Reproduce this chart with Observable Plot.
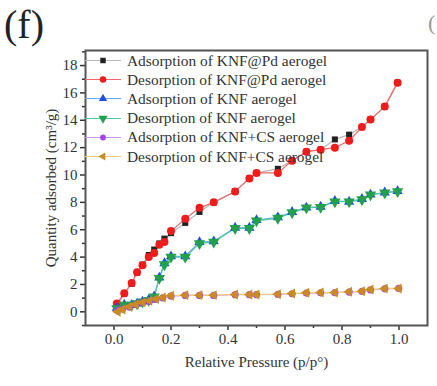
<!DOCTYPE html>
<html><head><meta charset="utf-8">
<script src="https://cdn.jsdelivr.net/npm/d3@7"></script>
<script src="https://cdn.jsdelivr.net/npm/@observablehq/plot@0.6"></script>
<style>
body{margin:0;background:#fff;}
#wrap{position:relative;width:437px;height:386px;font-family:"Liberation Serif","Times New Roman",serif;overflow:hidden;}
#tag{position:absolute;left:4px;top:3px;font-size:40px;color:#222;line-height:44px;}
#tag2{position:absolute;left:428px;top:10px;font-size:22px;color:#999;}
#legend{position:absolute;left:85px;top:51px;}
.row{display:flex;align-items:center;height:19.2px;}
.row span{font-size:15.4px;color:#333;margin-left:2px;white-space:nowrap;}
#chart{position:absolute;left:0;top:0;}
#chart svg, #chart svg text{font-family:"Liberation Serif","Times New Roman",serif !important;}
</style></head><body>
<div id="wrap"><div id="chart"></div><div id="tag">(f)</div><div id="tag2">(</div><div id="legend"></div></div>
<script>
// Data
const seriesNames = ["Adsorption of KNF@Pd aerogel","Desorption of KNF@Pd aerogel","Adsorption of KNF aerogel","Desorption of KNF aerogel","Adsorption of KNF+CS aerogel","Desorption of KNF+CS aerogel"];
const pressureA = [0.01,0.036,0.062,0.081,0.10,0.122,0.141,0.159,0.177,0.20,0.25,0.30,0.35,0.425,0.475,0.50,0.575,0.625,0.675,0.725,0.775,0.825,0.87,0.90,0.95,0.995];
const adsPd = [0.4,1.3,2.05,2.85,3.45,4.15,4.55,5.0,5.35,5.75,6.5,7.3,8.0,8.8,9.75,10.15,10.45,11.05,11.7,11.85,12.6,12.95,13.5,14.05,15.0,16.75];
const desPd = [0.6,1.35,2.1,2.9,3.4,4.0,4.3,4.9,5.1,5.9,6.8,7.6,8.0,8.8,9.75,10.15,10.15,11.05,11.7,11.85,12.0,12.5,13.5,14.05,15.0,16.75];
const adsKNF = [0.3,0.52,0.5,0.6,0.75,0.88,1.12,2.5,3.55,4.05,4.05,5.1,5.15,6.15,6.15,6.7,6.9,7.3,7.62,7.68,8.1,8.05,8.25,8.57,8.72,8.82];
const desKNF = [0.25,0.5,0.5,0.6,0.73,0.85,1.1,2.45,3.45,4.0,4.0,5.0,5.1,6.1,6.1,6.65,6.85,7.25,7.6,7.65,8.05,8.05,8.2,8.55,8.7,8.8];
const pressureC = [0.013,0.03,0.054,0.077,0.10,0.124,0.147,0.171,0.20,0.25,0.30,0.35,0.425,0.475,0.50,0.575,0.625,0.675,0.725,0.775,0.825,0.87,0.90,0.95,0.999];
const adsCS = [0.1,0.2,0.35,0.52,0.67,0.78,0.9,1.02,1.15,1.2,1.2,1.2,1.25,1.25,1.25,1.27,1.32,1.37,1.39,1.4,1.44,1.5,1.6,1.68,1.71];
const desCS = [0.0,0.17,0.37,0.54,0.69,0.8,0.93,1.05,1.17,1.22,1.22,1.22,1.27,1.27,1.27,1.29,1.34,1.39,1.41,1.41,1.46,1.51,1.63,1.71,1.71];
const xMajor = [0,0.2,0.4,0.6,0.8,1.0];
const xMinor = [0.1,0.3,0.5,0.7,0.9];
const yMajor = [0,2,4,6,8,10,12,14,16,18];
const yMinor = [-1,1,3,5,7,9,11,13,15,17,19];

// Styles
const markerColors = ["#222222","#f01c1c","#1f4fe0","#22a04a","#a545e8","#c98b22"];
const lineColors = ["#b8b8b8","#f06a6a","#6aa8f0","#4cc8a0","#c89af0","#f5cf7a"];
const symbols = ["square","circle","triangle","triangle","circle","triangle"];
const rotations = [0,0,0,180,0,-90];
const radii = [3.4,4,3.8,4.2,3.6,3.7];

const xsList = [pressureA,pressureA,pressureA,pressureA,pressureC,pressureC];
const ysList = [adsPd,desPd,adsKNF,desKNF,adsCS,desCS];
const tables = ysList.map((ys,i)=>ys.map((v,j)=>({p:xsList[i][j], q:v})));

const seriesMarks = [];
tables.forEach((t,i)=>{
  seriesMarks.push(Plot.line(t,{x:"p",y:"q",stroke:lineColors[i],strokeWidth:1.2}));
});
tables.forEach((t,i)=>{
  seriesMarks.push(Plot.dot(t,{x:"p",y:"q",symbol:symbols[i],fill:markerColors[i],r:radii[i],rotate:rotations[i],stroke:"none"}));
});

const chart = Plot.plot({
  width:437, height:386,
  marginLeft:85, marginRight:10, marginTop:50, marginBottom:61,
  style:{fontFamily:"'Liberation Serif', 'Times New Roman', serif",fontSize:"15px",color:"#333",background:"transparent"},
  x:{domain:[-0.1,1.1]},
  y:{domain:[-1,19.1]},
  marks:[
    Plot.axisX({ticks:xMajor,tickFormat:d3.format(".1f"),tickSize:5,tickPadding:3,strokeWidth:1.5,fontSize:15,label:"Relative Pressure (p/p°)",labelAnchor:"center",labelArrow:"none",labelOffset:41}),
    Plot.axisX({ticks:xMinor,tickSize:3,strokeWidth:1.5,text:null,label:null}),
    Plot.axisY({ticks:yMajor,tickSize:5,tickPadding:3,strokeWidth:1.5,fontSize:15,label:"Quantity adsorbed (cm³/g)",labelAnchor:"center",labelArrow:"none",labelOffset:40}),
    Plot.axisY({ticks:yMinor,tickSize:3,strokeWidth:1.5,text:null,label:null}),
    ...seriesMarks,
    Plot.frame({stroke:"#555",strokeWidth:2})
  ]
});
document.getElementById("chart").appendChild(chart);

// Legend
const legend = d3.select("#legend");
seriesNames.forEach((name,i)=>{
  const row = legend.append("div").attr("class","row");
  const svg = row.append("svg").attr("width",40).attr("height",19);
  svg.append("line").attr("x1",0).attr("x2",36).attr("y1",9.5).attr("y2",9.5).attr("stroke",lineColors[i]).attr("stroke-width",1.2);
  const symMap = {square:d3.symbolSquare,circle:d3.symbolCircle,triangle:d3.symbolTriangle};
  const r = radii[i]*0.9;
  const size = symbols[i]==="square" ? (2*r)*(2*r)*0.8 : Math.PI*r*r*0.8;
  svg.append("path").attr("d",d3.symbol(symMap[symbols[i]],size)()).attr("transform",`translate(18,9.5) rotate(${rotations[i]})`).attr("fill",markerColors[i]);
  row.append("span").text(name);
});
</script>
</body></html>
